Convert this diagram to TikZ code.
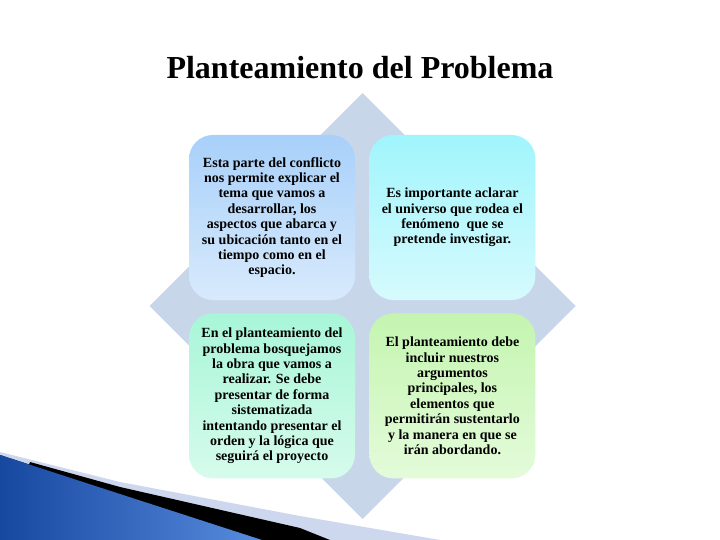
\documentclass[tikz,border=0pt]{standalone}
\usepackage{fontspec}
\setmainfont{Liberation Serif}
\usepackage{tikz}
\usetikzlibrary{positioning}
\usepackage{xcolor}
\definecolor{ppdiamond}{RGB}{200,214,234}
\definecolor{ppblueA}{RGB}{168,208,250}
\definecolor{ppblueB}{RGB}{216,234,252}
\definecolor{ppcyanA}{RGB}{160,245,252}
\definecolor{ppcyanB}{RGB}{214,250,253}
\definecolor{ppmintA}{RGB}{168,246,215}
\definecolor{ppmintB}{RGB}{214,251,236}
\definecolor{pplimeA}{RGB}{196,245,176}
\definecolor{pplimeB}{RGB}{228,251,218}
\definecolor{ppband}{RGB}{205,215,238}
\definecolor{ppdark}{RGB}{22,72,160}
\definecolor{pplight}{RGB}{88,140,222}
\tikzstyle{cuadro} = [rectangle, rounded corners=24pt, minimum width=166pt, minimum height=165pt, text centered, align=center, inner sep=0pt, font=\fontsize{14}{15.4}\selectfont\bfseries]
\tikzstyle{titulo} = [font=\fontsize{32}{38}\selectfont\bfseries]

\begin{document}
\begin{tikzpicture}[x=1pt, y=-1pt]
    \useasboundingbox[fill=white] (0,0) rectangle (720,540);

    % Title
    \node[titulo] (titulo) at (360, 68) {Planteamiento del Problema};

    % Diamond behind the boxes
    \fill[ppdiamond] (362.5, 93) -- (575.5, 306) -- (362.5, 519) -- (149.5, 306) -- cycle;

    % Boxes
    \node[cuadro, top color=ppblueA, bottom color=ppblueB] (conflicto) at (272, 217.5) {Esta parte del conflicto\\nos permite explicar el\\tema que vamos a\\desarrollar, los\\aspectos que abarca y\\su ubicación tanto en el\\tiempo como en el\\espacio.};
    \node[cuadro, top color=ppcyanA, bottom color=ppcyanB, right=14pt of conflicto] (universo) {Es importante aclarar\\el universo que rodea el\\fenómeno\ \ que se\\pretende investigar.};
    \node[cuadro, top color=ppmintA, bottom color=ppmintB, below=13pt of conflicto] (obra) {En el planteamiento del\\problema bosquejamos\\la obra que vamos a\\realizar. Se debe\\presentar de forma\\sistematizada\\intentando presentar el\\orden y la lógica que\\seguirá el proyecto};
    \node[cuadro, top color=pplimeA, bottom color=pplimeB, below=13pt of universo] (argumentos) {El planteamiento debe\\incluir nuestros\\argumentos\\principales, los\\elementos que\\permitirán sustentarlo\\y la manera en que se\\irán abordando.};

    % Swoosh in the corner
    \fill[ppband] (0, 452) -- (120, 482) -- (300, 516) -- (440, 540) -- (0, 540) -- cycle;
    \fill[black] (30, 462) -- (120, 487) -- (300, 528) -- (330, 540) -- (0, 540) -- cycle;
    \fill[left color=ppdark, right color=pplight] (0, 455) -- (120, 494) -- (262, 540) -- (0, 540) -- cycle;
\end{tikzpicture}
\end{document}
